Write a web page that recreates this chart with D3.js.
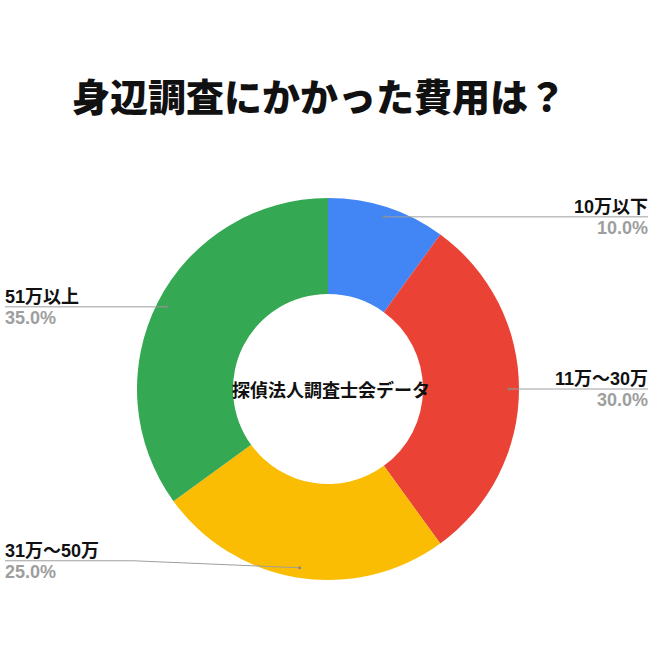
<!DOCTYPE html>
<html lang="ja">
<head>
<meta charset="UTF-8">
<title>身辺調査</title>
<script src="https://d3js.org/d3.v7.min.js"></script>
<style>
  body { margin: 0; background: #fff; }
  svg text { font-family: "Liberation Sans", Arial, "Noto Sans CJK JP", sans-serif; }
</style>
</head>
<body>
<svg width="660" height="660"></svg>
<script>
// chart data
const categories = ["10万以下", "11万～30万", "31万～50万", "51万以上"];
const percents = [10.0, 30.0, 25.0, 35.0];
const colors = ["#4285F4", "#EA4335", "#FBBC04", "#34A853"];
const titleText = "身辺調査にかかった費用は？";
const centerText = "探偵法人調査士会データ";

const svg = d3.select("svg");
const cx = 328, cy = 389;
const outerR = 191, innerR = 95;

// title
svg.append("text")
    .attr("x", 319)
    .attr("y", 111)
    .attr("text-anchor", "middle")
    .style("font-family", "'Noto Sans CJK JP', sans-serif")
    .style("font-weight", 900)
    .style("font-size", "38px")
    .attr("fill", "#111")
    .text(titleText);

const pie = d3.pie().sort(null).value(d => d);
const arcs = pie(percents);
const arc = d3.arc().innerRadius(innerR).outerRadius(outerR);
const dotArc = d3.arc().innerRadius(181).outerRadius(181);

const g = svg.append("g").attr("transform", `translate(${cx},${cy})`);

g.selectAll("path")
    .data(arcs)
    .join("path")
    .attr("d", arc)
    .attr("fill", (d, i) => colors[i]);

// center label
svg.append("text")
    .attr("x", 331)
    .attr("y", 397)
    .attr("text-anchor", "middle")
    .style("font-weight", "bold")
    .style("font-size", "18px")
    .attr("fill", "#111")
    .text(centerText);

// leader lines and labels
const labelShift = [0, 0, -7, -1];
arcs.forEach((d, i) => {
    const [px, py] = dotArc.centroid(d);
    const dx = cx + px, dy = cy + py;
    const right = (d.startAngle + d.endAngle) / 2 < Math.PI;
    const ly = dy + labelShift[i];
    const edge = right ? 648 : 5;

    let pts;
    if (labelShift[i] > -3) {
        pts = [[dx, dy], [edge, dy]];
    } else {
        pts = [[dx, dy], [133, ly], [edge, ly]];
    }
    svg.append("path")
        .attr("d", d3.line()(pts))
        .attr("fill", "none")
        .attr("stroke", "#9e9e9e")
        .attr("stroke-width", 1);
    svg.append("circle")
        .attr("cx", dx)
        .attr("cy", dy)
        .attr("r", 1.5)
        .attr("fill", "#888");

    const lineY = labelShift[i] > -3 ? dy : ly;
    svg.append("text")
        .attr("x", edge)
        .attr("y", lineY - 4)
        .attr("text-anchor", right ? "end" : "start")
        .style("font-weight", "bold")
        .style("font-size", "18px")
        .attr("fill", "#111")
        .text(categories[i]);
    svg.append("text")
        .attr("x", edge)
        .attr("y", lineY + 17)
        .attr("text-anchor", right ? "end" : "start")
        .style("font-weight", "bold")
        .style("font-size", "18px")
        .attr("fill", "#9e9e9e")
        .text(percents[i].toFixed(1) + "%");
});
</script>
</body>
</html>
